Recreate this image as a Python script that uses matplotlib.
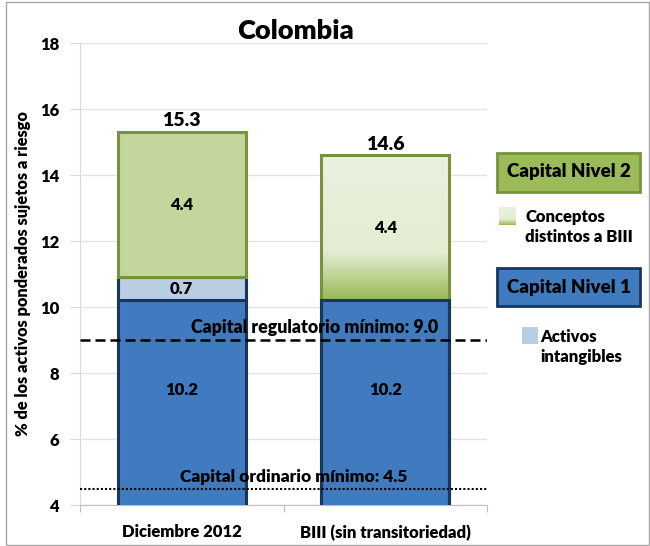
import matplotlib.pyplot as plt
from matplotlib.patches import Rectangle
from matplotlib.colors import LinearSegmentedColormap
import numpy as np

plt.rcParams['font.family'] = ['Lato', 'DejaVu Sans']
plt.rcParams['font.weight'] = 'heavy'
plt.rcParams['axes.titleweight'] = 'heavy'
plt.rcParams['axes.labelweight'] = 'heavy'
wt = 'heavy'

categories = ["Diciembre 2012", "BIII (sin transitoriedad)"]
nivel1 = [10.2, 10.2]
intangibles = [0.7, 0.0]
nivel2 = [4.4, 4.4]
totals = [15.3, 14.6]
min_regulatorio = 9.0
min_ordinario = 4.5

blue = '#3F7BBE'
blue_edge = '#17375E'
lblue = '#B9CDE5'
green = '#C3D69B'
green_edge = '#77933C'

W, H = 650, 546
fig = plt.figure(figsize=(W / 100, H / 100), dpi=100)
ax = fig.add_axes([80 / W, 1 - 505 / H, (487 - 80) / W, (505 - 43) / H])

x = np.arange(len(categories))
bw = 0.63
ax.bar(x, nivel1, bw, bottom=0, color=blue, edgecolor=blue_edge, linewidth=2.2, zorder=3)
ax.bar(x[0], intangibles[0], bw, bottom=nivel1[0], color=lblue, edgecolor=blue_edge,
       linewidth=2.2, zorder=3)
b1 = nivel1[0] + intangibles[0]
ax.bar(x[0], nivel2[0], bw, bottom=b1, color=green, edgecolor=green_edge, linewidth=2.2, zorder=3)

# gradient bar for "Conceptos distintos a BIII"
cmap = LinearSegmentedColormap.from_list('g', [(0, '#98B955'), (0.33, '#E4EDD3'), (1, '#EBF1DE')])
grad = np.linspace(0, 1, 256).reshape(-1, 1)
b2 = nivel1[1] + intangibles[1]
ax.imshow(grad, cmap=cmap, origin='lower', aspect='auto', zorder=3,
          extent=[x[1] - bw / 2, x[1] + bw / 2, b2, b2 + nivel2[1]])
ax.bar(x[1], nivel2[1], bw, bottom=b2, color='none', edgecolor=green_edge, linewidth=2.2, zorder=4)
ax.bar(x[1], nivel1[1], bw, bottom=0, color='none', edgecolor=blue_edge, linewidth=2.2, zorder=5)

for i in range(len(categories)):
    ax.text(x[i], nivel1[i] / 2 + 2.4, f"{nivel1[i]:.1f}", ha='center', va='center',
            fontsize=12, fontweight=wt, zorder=6)
    b = nivel1[i] + intangibles[i]
    ax.text(x[i], b + nivel2[i] / 2, f"{nivel2[i]:.1f}", ha='center', va='center',
            fontsize=12, fontweight=wt, zorder=6)
    ax.text(x[i], totals[i] + 0.08, f"{totals[i]:.1f}", ha='center', va='bottom',
            fontsize=14, fontweight=wt, zorder=6)
ax.text(x[0], nivel1[0] + intangibles[0] / 2, f"{intangibles[0]:.1f}", ha='center',
        va='center', fontsize=12, fontweight=wt, zorder=6)

ax.axhline(min_regulatorio, color='black', linestyle=(0, (4, 2)), linewidth=1.8, zorder=7)
ax.axhline(min_ordinario, color='black', linestyle=(0, (1, 1)), linewidth=1.5, zorder=7)
ax.text(0.655, min_regulatorio + 0.12, f"Capital regulatorio mínimo: {min_regulatorio:.1f}",
        ha='center', va='bottom', fontsize=12.8, fontweight=wt, zorder=8)
ax.text(0.55, min_ordinario + 0.12, f"Capital ordinario mínimo: {min_ordinario:.1f}",
        ha='center', va='bottom', fontsize=12.5, fontweight=wt, zorder=8)

ax.set_ylim(4, 18)
ax.set_xlim(-0.5, 1.5)
ax.set_yticks(range(4, 19, 2))
ax.set_yticklabels([str(v) for v in range(4, 19, 2)], fontweight=wt, fontsize=12)
ax.tick_params(axis='y', length=7, color='#D9D9D9', pad=8)
ax.set_xticks([-0.5, 0.5, 1.5])
ax.set_xticklabels([])
ax.set_xticks(x, minor=True)
ax.set_xticklabels(categories, minor=True, fontsize=12, fontweight=wt)
ax.tick_params(axis='x', which='major', length=5, color='#BFBFBF')
ax.tick_params(axis='x', which='minor', length=0, pad=14)
ax.grid(axis='y', color='#E3E3E3', linewidth=1, zorder=0)
for s in ['top', 'right']:
    ax.spines[s].set_visible(False)
ax.spines['left'].set_color('#D9D9D9')
ax.spines['bottom'].set_color('#BFBFBF')
ax.set_ylabel("% de los activos ponderados sujetos a riesgo", fontsize=11.8, labelpad=6)
ax.set_title("Colombia", fontsize=19.5, pad=2, x=0.53)


def px(x0, y0, x1, y1):
    return (x0 / W, 1 - y1 / H), (x1 - x0) / W, (y1 - y0) / H


xy, w, h = px(497, 153, 640, 192)
fig.patches.append(Rectangle(xy, w, h, transform=fig.transFigure, facecolor='#9BBB59',
                             edgecolor=green_edge, linewidth=2))
fig.text(569 / W, 1 - 172 / H, "Capital Nivel 2", ha='center', va='center', fontsize=13.5)

# gradient legend swatch
lax = fig.add_axes([499 / W, 1 - 225 / H, 17 / W, 18 / H])
lax.imshow(grad, cmap=cmap, origin='lower', aspect='auto')
lax.axis('off')
fig.text(525 / W, 1 - 227 / H, "Conceptos\ndistintos a BIII", ha='left', va='center',
         fontsize=12, linespacing=1.25)

xy, w, h = px(497, 268, 640, 306)
fig.patches.append(Rectangle(xy, w, h, transform=fig.transFigure, facecolor=blue,
                             edgecolor=blue_edge, linewidth=2))
fig.text(569 / W, 1 - 287 / H, "Capital Nivel 1", ha='center', va='center', fontsize=13.5)

xy, w, h = px(522, 327, 538, 344)
fig.patches.append(Rectangle(xy, w, h, transform=fig.transFigure, facecolor=lblue,
                             edgecolor='none'))
fig.text(540 / W, 1 - 347 / H, "Activos\nintangibles", ha='left', va='center',
         fontsize=12, linespacing=1.25)

xy, w, h = px(6, 2, 649, 545)
fig.patches.append(Rectangle(xy, w, h, transform=fig.transFigure, facecolor='none',
                             edgecolor='#A6A6A6', linewidth=1))

fig.savefig("out.png", dpi=100)
